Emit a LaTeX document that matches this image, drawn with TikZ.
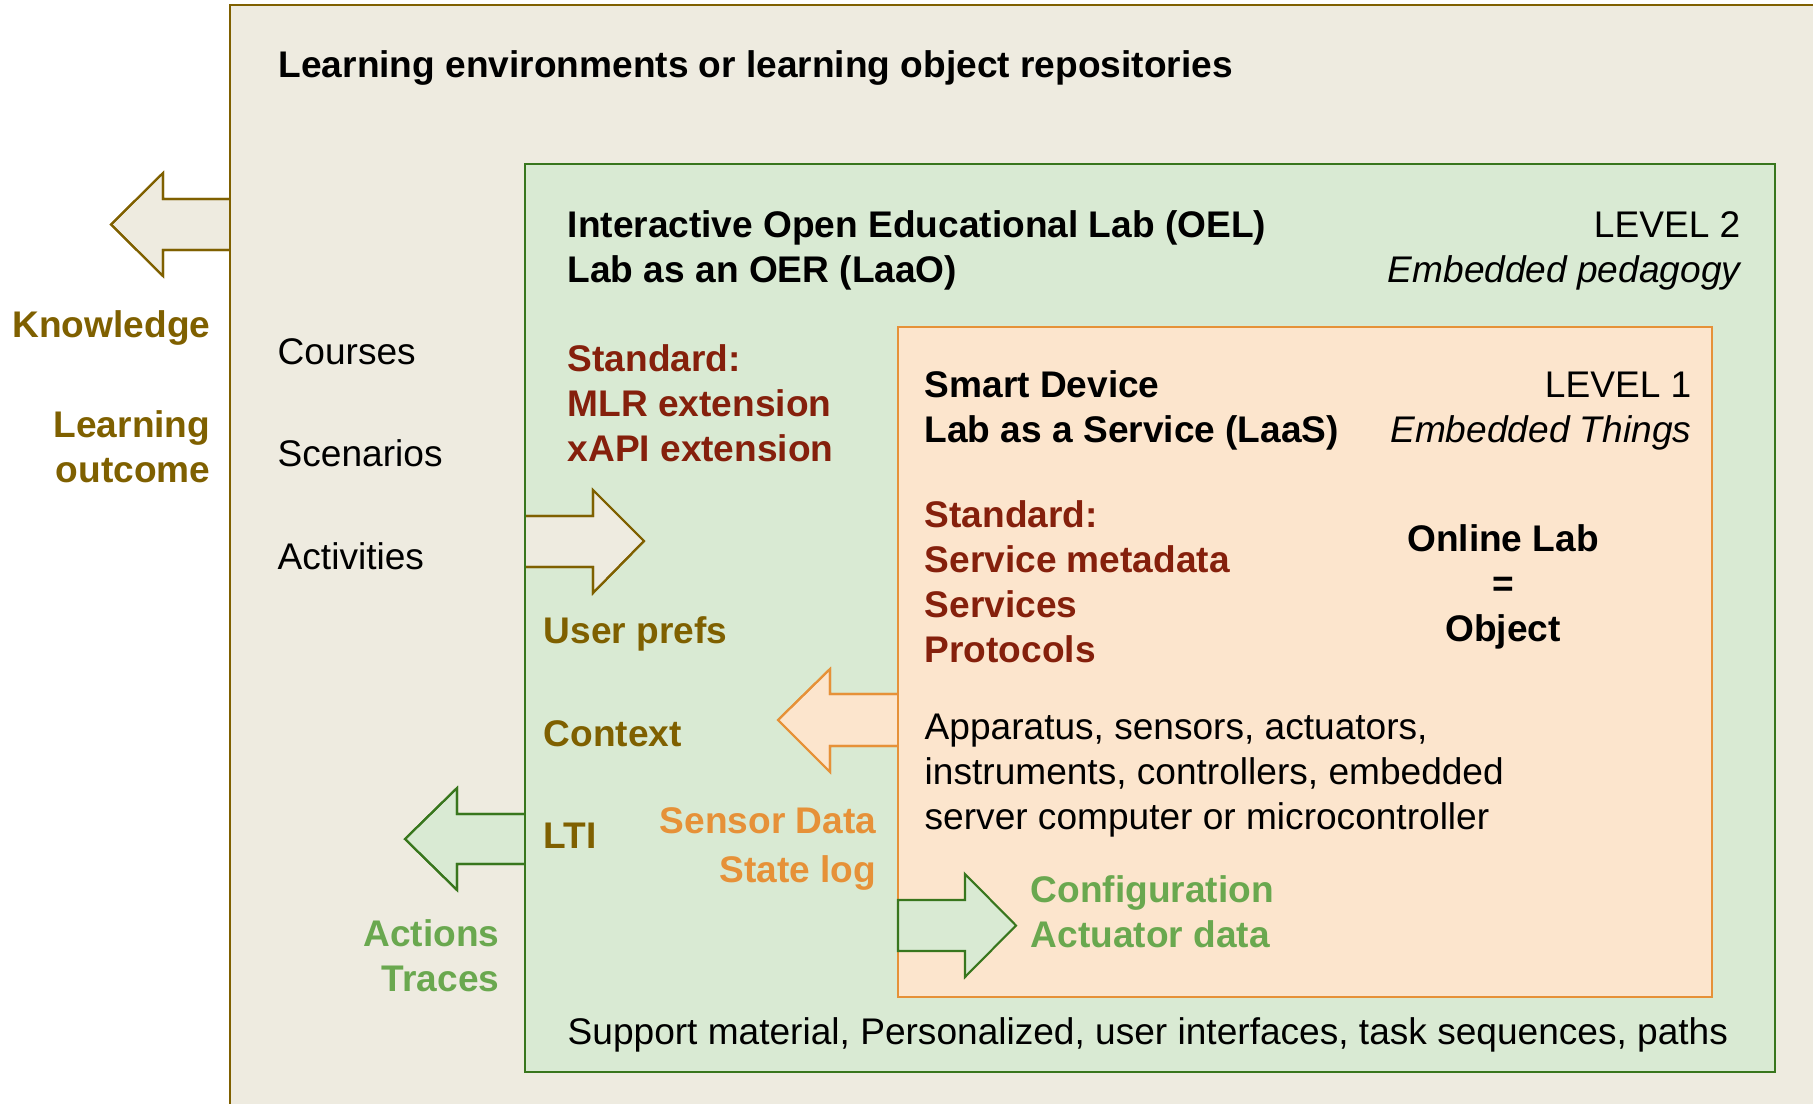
\documentclass[tikz,border=0pt]{standalone}
\usepackage{fontspec}
\setmainfont{Liberation Sans}
\usepackage{tikz}

\definecolor{envfill}{HTML}{EEEBE0}
\definecolor{olive}{HTML}{7F6000}
\definecolor{labfill}{HTML}{D9EAD3}
\definecolor{labline}{HTML}{38761D}
\definecolor{laasfill}{HTML}{FCE5CD}
\definecolor{laasline}{HTML}{E69138}
\definecolor{stdred}{HTML}{85200C}
\definecolor{leafgreen}{HTML}{6AA84F}

\newcommand\txtsize{\fontsize{10.55}{12.8}\selectfont}

\begin{document}
\begin{tikzpicture}[x=0.1mm,y=-0.1mm,
	lbl/.style={inner sep=0pt,anchor=base west,align=left,font=\txtsize},
	rlbl/.style={inner sep=0pt,anchor=base east,align=right,font=\txtsize},
	bold/.style={font=\txtsize\bfseries},
	envarrow/.style={fill=envfill,draw=olive,line width=0.6pt,line join=miter},
	labarrow/.style={fill=labfill,draw=labline,line width=0.6pt,line join=miter},
	laasarrow/.style={fill=laasfill,draw=laasline,line width=0.6pt,line join=miter},
	boxline/.style={line width=0.8pt}]
	\useasboundingbox (0,0) rectangle (1813,1104);
	\clip (0,0) rectangle (1813,1104);

	\coordinate (ENV) at (230,5);
	\coordinate (LAB) at (525,164);
	\coordinate (LABEND) at (1775,1072);
	\coordinate (LAAS) at (898,327);
	\coordinate (LAASEND) at (1712,997);

	% the three nested boxes, fills first
	\fill[envfill](ENV) rectangle (1900,1200);
	\fill[labfill](LAB) rectangle (LABEND);
	\fill[laasfill](LAAS) rectangle (LAASEND);

	% block arrows (base left open where it sits on a box edge)
	\fill[envarrow](230,199)--(163,199)--(163,173)--(111,224.5)--(163,276)--(163,250)--(230,250);
	\draw[envarrow,fill=none](230,199)--(163,199)--(163,173)--(111,224.5)--(163,276)--(163,250)--(230,250);

	\fill[envarrow](525,516)--(593,516)--(593,490)--(644,541)--(593,593)--(593,567)--(525,567);
	\draw[envarrow,fill=none](525,516)--(593,516)--(593,490)--(644,541)--(593,593)--(593,567)--(525,567);

	\fill[laasarrow](898,694)--(830,694)--(830,669)--(778,720)--(830,772)--(830,746)--(898,746);
	\draw[laasarrow,fill=none](898,694)--(830,694)--(830,669)--(778,720)--(830,772)--(830,746)--(898,746);

	\fill[labarrow](525,814)--(457,814)--(457,788)--(405,839)--(457,890)--(457,864)--(525,864);
	\draw[labarrow,fill=none](525,814)--(457,814)--(457,788)--(405,839)--(457,890)--(457,864)--(525,864);

	% box outlines over the arrow bases
	\draw[boxline,olive](ENV) rectangle (1900,1200);
	\draw[boxline,labline](LAB) rectangle (LABEND);
	\draw[boxline,laasline](LAAS) rectangle (LAASEND);

	\filldraw[labarrow](898,900)--(965,900)--(965,874)--(1016,925.5)--(965,977)--(965,951)--(898,951)--cycle;

	% outer level (multi-line nodes sit on their last baseline)
	\node[lbl,bold] (title) at (278,77) {Learning environments or learning object repositories};
	\node[rlbl,bold,text=olive] (knowledge) at (211,337) {Knowledge};
	\node[rlbl,bold,text=olive] (outcome) at (211,482) {Learning\\outcome};
	\node[lbl] (courses) at (277,364) {Courses};
	\node[lbl] (scenarios) at (277,466) {Scenarios};
	\node[lbl] (activities) at (277,569) {Activities};
	\node[rlbl,bold,text=leafgreen] (actions) at (500,991) {Actions\\Traces};

	% level 2
	\node[lbl,bold] (oel) at (567,282) {Interactive Open Educational Lab (OEL)\\Lab as an OER (LaaO)};
	\node[rlbl] (level2) at (1741,282) {LEVEL 2\\\itshape Embedded pedagogy};
	\node[lbl,bold,text=stdred] (stdoel) at (567,461) {Standard:\\MLR extension\\xAPI extension};
	\node[lbl,bold,text=olive] (userprefs) at (543,643) {User prefs};
	\node[lbl,bold,text=olive] (context) at (543,746) {Context};
	\node[lbl,bold,text=olive] (lti) at (543,848) {LTI};
	\node[rlbl,text=laasline,font=\fontsize{10.55}{13.8}\selectfont\bfseries] (sensordata) at (877,882) {Sensor Data\\State log};
	\node[lbl] (support) at (567,1044) {Support material, Personalized, user interfaces, task sequences, paths};

	% level 1
	\node[lbl,bold] (laas) at (924,442) {Smart Device\\Lab as a Service (LaaS)};
	\node[rlbl] (level1) at (1692,442) {LEVEL 1\\\itshape Embedded Things};
	\node[lbl,bold,text=stdred] (stdlaas) at (924,662) {Standard:\\Service metadata\\Services\\Protocols};
	\node[inner sep=0pt,anchor=base,align=center,font=\txtsize\bfseries] (onlinelab) at (1503,641) {Online Lab\\=\\Object};
	\node[lbl] (apparatus) at (924,829) {Apparatus, sensors, actuators,\\instruments, controllers, embedded\\server computer or microcontroller};
	\node[lbl,bold,text=leafgreen] (config) at (1030,947) {Configuration\\Actuator data};
\end{tikzpicture}
\end{document}
